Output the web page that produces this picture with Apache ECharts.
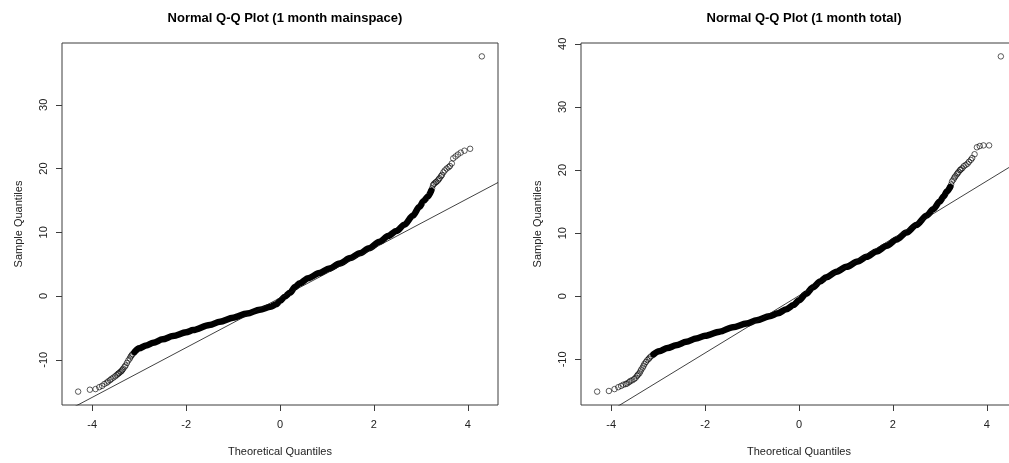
<!DOCTYPE html>
<html>
<head>
<meta charset="utf-8">
<script src="https://cdn.jsdelivr.net/npm/echarts@6/dist/echarts.min.js"></script>
<style>
  html, body { margin: 0; padding: 0; background: #ffffff; }
  #chart { width: 1009px; height: 463px; }
</style>
</head>
<body>
<div id="chart"></div>
<script>
// Tick values shown on the axes
const xTicks = [-4, -2, 0, 2, 4];
const mainYTicks = [-10, 0, 10, 20, 30];
const totalYTicks = [-10, 0, 10, 20, 30, 40];

// Plot titles and axis names
const titles = ['Normal Q-Q Plot (1 month mainspace)', 'Normal Q-Q Plot (1 month total)'];
const xName = 'Theoretical Quantiles';
const yName = 'Sample Quantiles';

// ---- 1 month mainspace ----
// sparse lower tail (theoretical, sample)
const mainLowX = [-4.30, -4.05, -3.93, -3.85, -3.79, -3.74, -3.69, -3.66, -3.62, -3.59, -3.55, -3.51, -3.48, -3.45, -3.43, -3.40, -3.38, -3.36, -3.34, -3.31, -3.29, -3.26, -3.23, -3.20, -3.18, -3.16, -3.14];
const mainLowY = [-15.0, -14.7, -14.6, -14.3, -14.1, -13.8, -13.6, -13.4, -13.2, -13.0, -12.8, -12.6, -12.4, -12.2, -12.1, -11.9, -11.8, -11.6, -11.4, -11.1, -10.9, -10.5, -10.1, -9.8, -9.5, -9.3, -9.1];
// dense central body
const mainBandX = [-3.10, -3.00, -2.85, -2.70, -2.50, -2.28, -2.00, -1.85, -1.50, -1.28, -1.00, -0.70, -0.43, -0.20, -0.08, 0.00, 0.10, 0.21, 0.32, 0.42, 0.60, 0.84, 1.05, 1.27, 1.50, 1.70, 1.90, 2.12, 2.30, 2.48, 2.65, 2.83, 2.97, 3.06, 3.15, 3.22];
const mainBandY = [-8.8, -8.2, -7.75, -7.34, -6.8, -6.29, -5.7, -5.35, -4.55, -4.04, -3.4, -2.75, -2.15, -1.7, -1.3, -0.8, -0.1, 0.5, 1.4, 2.0, 2.8, 3.6, 4.3, 5.1, 5.95, 6.7, 7.5, 8.5, 9.4, 10.2, 11.2, 12.6, 14.0, 14.9, 15.6, 16.5];
// sparse upper tail
const mainHighX = [3.22, 3.24, 3.26, 3.28, 3.31, 3.33, 3.36, 3.38, 3.40, 3.43, 3.45, 3.48, 3.51, 3.55, 3.59, 3.62, 3.66, 3.69, 3.74, 3.79, 3.85, 3.93, 4.05, 4.30];
const mainHighY = [16.5, 16.9, 17.4, 17.6, 17.8, 17.9, 18.1, 18.3, 18.5, 18.8, 19.0, 19.4, 19.7, 20.0, 20.2, 20.4, 20.8, 21.6, 21.9, 22.2, 22.5, 22.8, 23.1, 37.6];
// reference line end points
const mainLineX = [-4.644, 4.644];
const mainLineY = [-18.41, 17.81];

// ---- 1 month total ----
const totalLowX = [-4.30, -4.05, -3.93, -3.85, -3.79, -3.74, -3.69, -3.66, -3.62, -3.59, -3.55, -3.51, -3.48, -3.45, -3.43, -3.40, -3.38, -3.36, -3.33, -3.31, -3.29, -3.26, -3.23, -3.20, -3.18, -3.15];
const totalLowY = [-15.1, -15.0, -14.7, -14.4, -14.2, -14.0, -13.9, -13.8, -13.6, -13.4, -13.3, -13.1, -12.9, -12.6, -12.4, -12.2, -11.9, -11.6, -11.3, -11.0, -10.7, -10.4, -10.1, -9.9, -9.7, -9.5];
const totalBandX = [-3.10, -2.98, -2.80, -2.62, -2.40, -2.19, -2.00, -1.69, -1.41, -1.12, -0.90, -0.63, -0.45, -0.27, -0.12, 0.00, 0.15, 0.30, 0.45, 0.58, 0.80, 1.01, 1.25, 1.44, 1.65, 1.87, 2.08, 2.29, 2.50, 2.72, 2.86, 3.00, 3.08, 3.15, 3.22];
const totalBandY = [-9.2, -8.7, -8.2, -7.77, -7.2, -6.7, -6.25, -5.6, -4.9, -4.33, -3.8, -3.17, -2.7, -2.05, -1.4, -0.64, 0.4, 1.45, 2.35, 3.0, 3.9, 4.66, 5.5, 6.25, 7.1, 8.0, 9.0, 10.1, 11.3, 12.8, 13.8, 15.0, 15.8, 16.6, 17.3];
const totalHighX = [3.22, 3.24, 3.26, 3.29, 3.31, 3.33, 3.36, 3.38, 3.40, 3.43, 3.45, 3.48, 3.51, 3.55, 3.59, 3.62, 3.66, 3.69, 3.74, 3.79, 3.85, 3.93, 4.05, 4.30];
const totalHighY = [17.3, 17.7, 18.2, 18.5, 18.8, 19.0, 19.3, 19.5, 19.7, 20.0, 20.1, 20.3, 20.6, 20.8, 21.0, 21.3, 21.6, 21.9, 22.5, 23.6, 23.8, 23.9, 23.9, 38.0];
const totalLineX = [-4.644, 4.644];
const totalLineY = [-20.98, 21.18];

// Axis extents
const xRange = [-4.644, 4.644];
const mainYRange = [-17.10, 39.70];
const totalYRange = [-17.22, 40.12];

const pairs = (xs, ys) => xs.map((x, i) => [x, ys[i]]);

const FONT = '"Liberation Sans", Arial, sans-serif';
const TEXT = '#222';
const BOX = '#3c3c3c';

function xAxisFor(gridIndex) {
  return {
    gridIndex, type: 'value', min: xRange[0], max: xRange[1],
    name: xName, nameLocation: 'middle', nameGap: 41,
    nameTextStyle: { fontFamily: FONT, fontSize: 11, color: TEXT },
    axisLine: { show: false, onZero: false },
    axisTick: { show: true, customValues: xTicks, length: 6, inside: false, lineStyle: { color: BOX, width: 1 } },
    axisLabel: { show: true, customValues: xTicks, margin: 14, fontFamily: FONT, fontSize: 11, color: TEXT },
    splitLine: { show: false }
  };
}

function yAxisFor(gridIndex, range, ticks) {
  return {
    gridIndex, type: 'value', min: range[0], max: range[1],
    name: yName, nameLocation: 'middle', nameGap: 38, nameRotate: 90,
    nameTextStyle: { fontFamily: FONT, fontSize: 11, color: TEXT },
    axisLine: { show: false, onZero: false },
    axisTick: { show: true, customValues: ticks, length: 6, inside: false, lineStyle: { color: BOX, width: 1 } },
    axisLabel: { show: true, customValues: ticks, rotate: 90, margin: 13, fontFamily: FONT, fontSize: 11, color: TEXT },
    splitLine: { show: false }
  };
}

function panelSeries(idx, lowX, lowY, bandX, bandY, highX, highY, lineX, lineY) {
  const pointStyle = { color: 'rgba(0,0,0,0)', borderColor: '#000', borderWidth: 0.8 };
  return [
    {
      type: 'line', xAxisIndex: idx, yAxisIndex: idx,
      data: pairs(bandX, bandY), symbol: 'none', smooth: 0.3, smoothMonotone: 'x',
      lineStyle: { color: '#000', width: 6.5, cap: 'round', join: 'round' },
      silent: true, z: 2
    },
    {
      type: 'scatter', xAxisIndex: idx, yAxisIndex: idx,
      data: pairs(lowX, lowY).concat(pairs(highX, highY)),
      symbol: 'circle', symbolSize: 5.5, itemStyle: pointStyle, silent: true, z: 3
    },
    {
      type: 'line', xAxisIndex: idx, yAxisIndex: idx,
      data: pairs(lineX, lineY), symbol: 'none', clip: true,
      lineStyle: { color: '#111', width: 0.8 }, silent: true, z: 4
    }
  ];
}

const chart = echarts.init(document.getElementById('chart'), null, { renderer: 'canvas' });
chart.setOption({
  animation: false,
  backgroundColor: '#ffffff',
  title: [
    { text: titles[0], left: 280, top: 7, textAlign: 'center',
      textStyle: { fontFamily: FONT, fontSize: 13, fontWeight: 'bold', color: '#000' } },
    { text: titles[1], left: 799, top: 7, textAlign: 'center',
      textStyle: { fontFamily: FONT, fontSize: 13, fontWeight: 'bold', color: '#000' } }
  ],
  grid: [
    { left: 62, top: 43, width: 436, height: 362, outerBoundsMode: 'none', containLabel: false,
      show: true, borderColor: BOX, borderWidth: 1, backgroundColor: 'transparent' },
    { left: 581, top: 43, width: 436, height: 362, outerBoundsMode: 'none', containLabel: false,
      show: true, borderColor: BOX, borderWidth: 1, backgroundColor: 'transparent' }
  ],
  xAxis: [xAxisFor(0), xAxisFor(1)],
  yAxis: [yAxisFor(0, mainYRange, mainYTicks), yAxisFor(1, totalYRange, totalYTicks)],
  series: [
    ...panelSeries(0, mainLowX, mainLowY, mainBandX, mainBandY, mainHighX, mainHighY, mainLineX, mainLineY),
    ...panelSeries(1, totalLowX, totalLowY, totalBandX, totalBandY, totalHighX, totalHighY, totalLineX, totalLineY)
  ]
});
</script>
</body>
</html>
